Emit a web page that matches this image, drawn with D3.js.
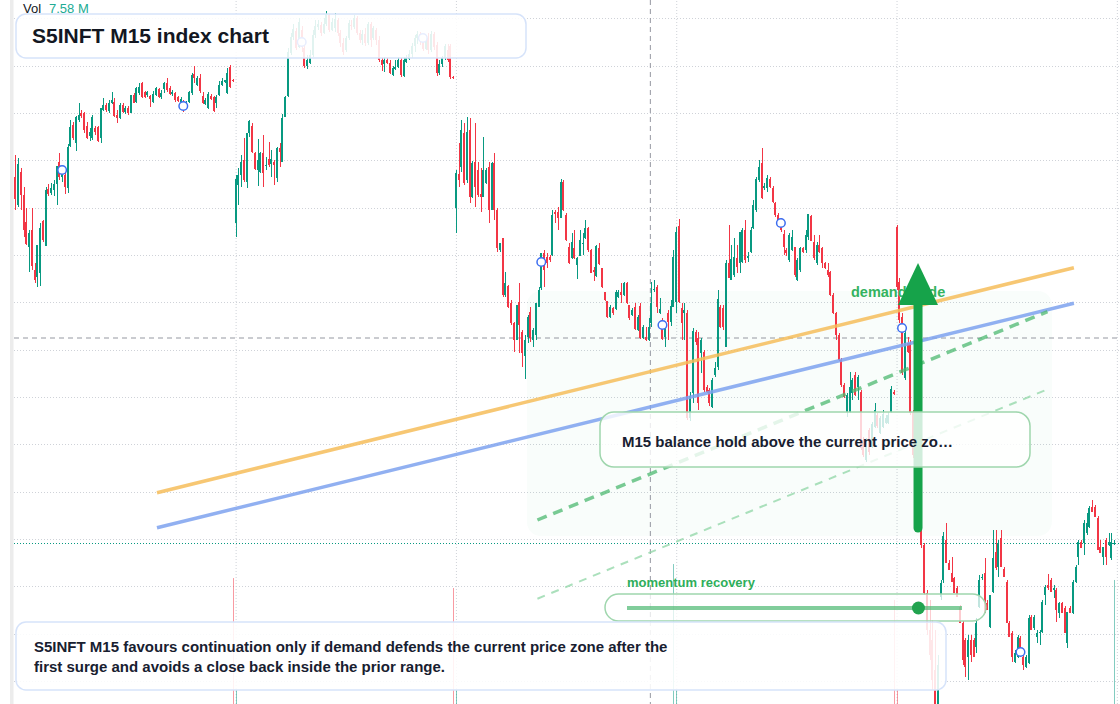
<!DOCTYPE html>
<html>
<head>
<meta charset="utf-8">
<script src="https://cdn.jsdelivr.net/npm/d3@7"></script>
<style>
  html, body { margin: 0; padding: 0; background: #fff; }
  svg { display: block; font-family: "Liberation Sans", Arial, sans-serif; }
</style>
</head>
<body>
<svg id="chart" width="1120" height="704"></svg>
<script>
// ---- data: M15 candles, 5 sessions of 80 bars ----
const opens = [
  4823,4795,4828,4805,4778,4753,4770,4730,4723,4727,4779,4754,4811,4807,4810,4816,4838,4823,4825,4812,
  4854,4875,4857,4880,4887,4887,4874,4864,4862,4872,4873,4862,4890,4895,4889,4897,4898,4885,4882,4895,
  4888,4892,4887,4905,4898,4907,4917,4908,4905,4904,4898,4905,4911,4903,4911,4917,4912,4906,4907,4903,
  4898,4898,4894,4898,4907,4926,4915,4922,4904,4896,4892,4904,4903,4897,4905,4915,4918,4907,4933,4920,
  4777,4815,4825,4840,4818,4867,4874,4847,4830,4828,4847,4834,4841,4836,4838,4822,4852,4838,4883,4904,
  4947,4963,4969,4953,4970,4952,4934,4937,4945,4965,4973,4975,4967,4976,4985,4970,4972,4980,4967,4957,
  4950,4962,4975,4973,4982,4967,4960,4966,4957,4976,4962,4970,4960,4940,4936,4940,4937,4925,4931,4933,
  4940,4924,4938,4941,4946,4954,4962,4966,4960,4951,4962,4950,4966,4955,4927,4936,4942,4950,4954,4923,
  4792,4826,4833,4867,4820,4870,4803,4838,4830,4806,4803,4817,4833,4790,4837,4790,4750,4762,4705,4714,
  4697,4677,4660,4698,4668,4644,4663,4688,4660,4665,4693,4712,4747,4743,4743,4745,4788,4788,4782,4818,
  4785,4753,4742,4752,4735,4744,4756,4762,4772,4750,4730,4724,4752,4732,4708,4699,4683,4692,4691,4703,
  4708,4705,4717,4695,4685,4693,4670,4694,4662,4663,4660,4677,4710,4713,4687,4680,4663,4687,4678,4693,
  4698,4774,4692,4687,4687,4582,4607,4668,4662,4647,4648,4613,4610,4593,4625,4633,4693,4692,4653,4737,
  4720,4725,4742,4737,4738,4770,4742,4748,4772,4790,4820,4837,4812,4812,4821,4812,4797,4785,4778,4766,
  4750,4740,4750,4753,4720,4730,4752,4750,4763,4784,4758,4737,4755,4752,4737,4730,4728,4705,4687,4665,
  4640,4615,4588,4588,4607,4625,4613,4608,4560,4540,4570,4553,4573,4585,4567,4573,4577,4577,4588,4608,
  4773,4718,4683,4622,4657,4657,4587,4545,4535,4518,4455,4407,4370,4360,4330,4285,4403,4420,4460,4437,
  4427,4422,4412,4393,4377,4360,4343,4360,4360,4353,4393,4422,4427,4397,4373,4408,4448,4433,4462,4431,
  4418,4377,4367,4338,4343,4362,4343,4333,4337,4383,4372,4363,4367,4368,4405,4415,4420,4410,4410,4387,
  4397,4392,4357,4392,4387,4418,4443,4458,4457,4467,4473,4493,4493,4482,4453,4443,4460,4455,4442,4456
];
const highs = [
  4845,4842,4832,4813,4792,4770,4792,4737,4755,4777,4780,4813,4816,4817,4820,4834,4847,4832,4827,4856,
  4880,4878,4884,4897,4890,4888,4878,4872,4885,4874,4874,4892,4902,4897,4900,4908,4902,4890,4897,4897,
  4894,4894,4905,4907,4913,4917,4918,4909,4909,4905,4909,4913,4912,4910,4918,4922,4914,4910,4908,4904,
  4903,4900,4899,4909,4927,4934,4924,4926,4908,4902,4908,4906,4904,4905,4919,4922,4920,4932,4935,4921,
  4825,4832,4845,4862,4867,4880,4877,4848,4861,4848,4865,4843,4858,4850,4840,4853,4857,4886,4904,4952,
  4967,4976,4972,4982,4974,4955,4945,4950,4970,4980,4980,4978,4982,4989,4986,4982,4987,4982,4970,4962,
  4964,4980,4980,4985,4984,4970,4970,4972,4978,4978,4974,4972,4964,4942,4943,4942,4940,4934,4940,4943,
  4942,4943,4945,4950,4957,4965,4969,4968,4964,4965,4967,4969,4968,4958,4940,4944,4956,4956,4956,4924,
  4830,4857,4880,4877,4883,4882,4839,4877,4838,4832,4863,4832,4838,4838,4847,4792,4757,4762,4728,4715,
  4700,4678,4695,4717,4670,4665,4685,4693,4672,4697,4713,4747,4750,4747,4745,4790,4790,4793,4821,4820,
  4787,4757,4767,4770,4743,4770,4767,4780,4773,4751,4733,4755,4757,4732,4708,4699,4695,4693,4710,4710,
  4717,4718,4718,4695,4692,4697,4685,4697,4675,4673,4682,4718,4720,4715,4702,4682,4673,4690,4700,4750,
  4773,4781,4697,4697,4690,4608,4672,4670,4668,4662,4650,4615,4612,4622,4638,4710,4695,4695,4740,4775,
  4755,4762,4755,4768,4772,4780,4748,4773,4800,4823,4840,4852,4817,4825,4823,4814,4798,4787,4782,4770,
  4752,4767,4770,4753,4742,4753,4753,4770,4786,4785,4765,4758,4765,4753,4738,4737,4729,4707,4688,4667,
  4642,4617,4607,4628,4622,4628,4625,4610,4563,4562,4572,4578,4597,4587,4584,4590,4585,4588,4614,4610,
  4775,4722,4687,4670,4663,4660,4590,4560,4540,4522,4457,4410,4400,4380,4370,4345,4420,4468,4477,4440,
  4443,4423,4414,4395,4379,4362,4365,4365,4362,4382,4425,4426,4442,4400,4405,4470,4470,4460,4470,4433,
  4420,4379,4369,4350,4365,4364,4345,4345,4385,4385,4385,4370,4370,4400,4415,4426,4422,4415,4412,4398,
  4398,4394,4388,4394,4420,4435,4460,4460,4480,4487,4494,4500,4495,4484,4460,4453,4462,4467,4467,4460
];
const lows = [
  4790,4793,4790,4763,4755,4728,4730,4717,4713,4714,4758,4754,4804,4805,4804,4795,4820,4818,4806,4807,
  4853,4860,4849,4878,4882,4867,4861,4859,4860,4865,4858,4857,4889,4888,4887,4896,4883,4877,4881,4887,
  4886,4885,4887,4897,4897,4905,4902,4902,4903,4893,4897,4904,4902,4901,4907,4908,4905,4904,4898,4898,
  4897,4888,4892,4897,4905,4917,4914,4907,4896,4895,4891,4900,4888,4892,4904,4914,4917,4906,4912,4918,
  4763,4795,4813,4818,4812,4863,4847,4830,4814,4827,4813,4830,4833,4823,4815,4818,4833,4838,4883,4903,
  4945,4960,4950,4952,4948,4932,4931,4936,4943,4962,4970,4964,4966,4974,4968,4969,4968,4964,4953,4945,
  4948,4960,4970,4971,4965,4957,4955,4954,4955,4953,4960,4955,4938,4929,4928,4936,4926,4924,4930,4932,
  4923,4923,4937,4940,4942,4948,4956,4955,4949,4950,4946,4948,4950,4924,4925,4933,4940,4938,4921,4921,
  4767,4813,4828,4815,4817,4797,4802,4793,4803,4788,4803,4816,4777,4790,4780,4748,4748,4703,4703,4692,
  4675,4648,4660,4647,4633,4621,4657,4658,4653,4660,4693,4710,4713,4732,4738,4744,4777,4770,4782,4789,
  4759,4736,4741,4741,4721,4744,4745,4761,4748,4727,4719,4723,4735,4712,4699,4682,4682,4685,4690,4702,
  4697,4704,4696,4680,4684,4670,4669,4661,4661,4659,4659,4673,4708,4687,4686,4660,4653,4660,4674,4693,
  4687,4697,4660,4660,4580,4579,4597,4655,4590,4627,4608,4607,4594,4592,4623,4630,4672,4670,4653,4722,
  4720,4723,4727,4727,4737,4737,4738,4747,4771,4788,4818,4801,4810,4808,4812,4797,4783,4774,4768,4745,
  4744,4738,4749,4723,4719,4728,4747,4747,4760,4759,4740,4735,4747,4732,4731,4723,4704,4686,4660,4639,
  4613,4602,4583,4587,4600,4604,4600,4550,4543,4538,4545,4552,4572,4572,4566,4572,4576,4576,4587,4605,
  4710,4677,4625,4620,4647,4585,4542,4530,4515,4452,4405,4365,4340,4310,4270,4280,4400,4417,4437,4430,
  4418,4407,4403,4377,4335,4323,4320,4338,4343,4347,4392,4420,4387,4390,4372,4407,4430,4423,4433,4423,
  4377,4363,4338,4337,4342,4347,4330,4332,4336,4370,4370,4357,4355,4367,4395,4410,4408,4402,4378,4382,
  4387,4367,4352,4387,4386,4417,4435,4452,4445,4465,4472,4488,4483,4450,4447,4435,4435,4454,4440,4455
];
const closes = [
  4801,4836,4805,4770,4756,4767,4734,4720,4755,4772,4760,4810,4806,4812,4816,4834,4823,4827,4813,4853,
  4873,4862,4883,4885,4884,4870,4862,4868,4883,4868,4859,4892,4895,4890,4897,4900,4884,4882,4895,4888,
  4892,4887,4905,4897,4912,4913,4903,4903,4908,4901,4906,4912,4903,4907,4917,4910,4906,4908,4900,4899,
  4901,4893,4897,4908,4925,4922,4922,4909,4897,4900,4906,4901,4889,4903,4915,4919,4920,4927,4913,4919,
  4821,4825,4838,4820,4867,4879,4848,4831,4840,4847,4827,4835,4835,4841,4835,4852,4848,4882,4903,4948,
  4963,4971,4952,4978,4953,4934,4940,4945,4965,4974,4976,4967,4976,4986,4970,4978,4981,4967,4957,4948,
  4962,4977,4974,4982,4967,4960,4966,4957,4976,4960,4972,4960,4940,4935,4940,4937,4927,4932,4933,4940,
  4925,4940,4942,4946,4954,4962,4966,4960,4951,4962,4950,4966,4953,4927,4936,4942,4954,4940,4923,4922,
  4827,4820,4870,4817,4868,4803,4837,4813,4805,4803,4830,4830,4790,4837,4790,4752,4757,4705,4717,4693,
  4677,4660,4695,4675,4647,4660,4683,4662,4670,4697,4710,4747,4730,4737,4740,4785,4786,4782,4818,4790,
  4760,4737,4758,4742,4742,4760,4757,4772,4750,4727,4728,4754,4736,4713,4700,4683,4693,4687,4708,4708,
  4705,4717,4697,4682,4690,4671,4683,4662,4673,4660,4673,4697,4711,4693,4691,4661,4673,4678,4694,4743,
  4768,4698,4677,4690,4582,4604,4669,4658,4597,4660,4610,4608,4597,4620,4632,4701,4673,4673,4737,4722,
  4741,4743,4733,4768,4770,4740,4744,4770,4795,4821,4833,4802,4814,4822,4813,4798,4785,4778,4770,4753,
  4747,4765,4763,4725,4740,4752,4748,4765,4786,4759,4742,4755,4748,4737,4732,4725,4705,4687,4665,4640,
  4615,4603,4605,4613,4620,4605,4623,4552,4545,4558,4548,4576,4590,4574,4582,4586,4582,4585,4611,4606,
  4713,4680,4627,4667,4648,4587,4545,4535,4518,4455,4407,4370,4345,4320,4280,4335,4417,4464,4437,4430,
  4418,4407,4403,4377,4340,4333,4360,4345,4343,4377,4420,4423,4387,4390,4405,4442,4432,4457,4433,4423,
  4377,4363,4343,4347,4363,4347,4335,4343,4382,4370,4383,4367,4368,4398,4413,4412,4408,4412,4390,4397,
  4387,4367,4388,4387,4418,4433,4458,4452,4477,4477,4492,4488,4483,4450,4447,4453,4443,4458,4458,4457
];

// session boundaries (bar index of each day start) and price grid
const sessionStarts = [80, 160, 240, 320, 400];
const gridPrices = [4982, 4934, 4887, 4840, 4792, 4745, 4698, 4650, 4603, 4556, 4508, 4461, 4414, 4366, 4319];

// volume (millions) - only the closing-auction bars reach into view
const volIndex = [79, 80, 159, 160, 239, 240, 319, 320, 399];
const volValues = [7.66, 2.95, 7.24, 2.95, 8.25, 2.95, 6.74, 2.95, 7.58];

// signal markers
const markerIndex = [17, 61, 104, 148, 191, 235, 278, 322, 365];
const markerPrice = [4830, 4894, 4958, 4962, 4738, 4675, 4777, 4672, 4348];

// drawings (bar index, price)
const crossIndex = 230.6, crossPrice = 4662;
const channelIndex = [51.45, 384.4];
const upperLine = [4507.3, 4732.3];
const lowerLine = [4472.3, 4696.7];
const supportIndex = [189.6, 374.8];
const supportLine = [4480, 4688.3];
const supportLow = [4401.3, 4610.7];
const zoneIndex = [185.8, 376.4];
const zonePrice = [4464, 4709];
const arrowIndex = 327.8;
const arrowPrice = [4472, 4737];
const momentum = 0.87;

const titleText = "S5INFT M15 index chart";
const zoneLabel = "demand node";
const noteLines = [
  "S5INFT M15 favours continuation only if demand defends the current price zone after the",
  "first surge and avoids a close back inside the prior range."
];
const calloutText = "M15 balance hold above the current price zo\u2026";

// ---- chart ----
const W = 1120, H = 704;
const UP = "#089981", DOWN = "#f23645";
const svg = d3.select("#chart");

const x = d3.scaleLinear().domain([0, opens.length - 1]).range([15.3, 1114.1]);
const y = d3.scaleLinear().domain([4296, 5000]).range([H, 0]);
const yVol = d3.scaleLinear().domain([0, 10]).range([760, 522.5]);

svg.append("rect").attr("width", W).attr("height", H).attr("fill", "#fff");
svg.append("rect").attr("x", 10).attr("y", 0).attr("width", 3.5).attr("height", H).attr("fill", "#ececec");

// grid via axes
const gy = svg.append("g").attr("transform", "translate(14,0)")
  .call(d3.axisLeft(y).tickValues(gridPrices).tickSize(-(W - 14)).tickFormat(""));
const gx = svg.append("g").attr("transform", `translate(0,${H})`)
  .call(d3.axisBottom(x).tickValues(sessionStarts).tickSize(-H).tickFormat(""));
[gy, gx].forEach(g => {
  g.select(".domain").remove();
  g.selectAll("line").attr("stroke", "#cfd2d8").attr("stroke-dasharray", "1,2");
});

// demand zone
svg.append("rect")
  .attr("x", x(zoneIndex[0])).attr("y", y(zonePrice[1]))
  .attr("width", x(zoneIndex[1]) - x(zoneIndex[0]))
  .attr("height", y(zonePrice[0]) - y(zonePrice[1]))
  .attr("rx", 14).attr("fill", "#22c55e").attr("fill-opacity", 0.028);

// crosshair + last price line
svg.append("line").attr("x1", x(crossIndex)).attr("x2", x(crossIndex)).attr("y1", 0).attr("y2", H)
  .attr("stroke", "#9598a1").attr("stroke-dasharray", "5,4");
svg.append("line").attr("x1", 14).attr("x2", W).attr("y1", y(crossPrice)).attr("y2", y(crossPrice))
  .attr("stroke", "#9598a1").attr("stroke-dasharray", "5,4");
const lastY = Math.round(y(closes[closes.length - 1])) + 0.5;
svg.append("line").attr("x1", 14).attr("x2", W).attr("y1", lastY).attr("y2", lastY)
  .attr("stroke", UP).attr("stroke-dasharray", "1,2");

const bars = opens.map((o, i) => ({ i, o, h: highs[i], l: lows[i], c: closes[i] }));
const colorOf = d => d.c >= d.o ? UP : DOWN;

// volume
svg.append("g").selectAll("rect").data(volIndex).join("rect")
  .attr("x", i => Math.round(x(i)))
  .attr("y", (i, k) => yVol(volValues[k]))
  .attr("width", 1)
  .attr("height", (i, k) => yVol(0) - yVol(volValues[k]))
  .attr("fill", i => colorOf(bars[i])).attr("fill-opacity", 0.5);

// candles
const cg = svg.append("g").attr("shape-rendering", "crispEdges");
cg.selectAll("rect.wick").data(bars).join("rect").attr("class", "wick")
  .attr("x", d => Math.round(x(d.i)))
  .attr("y", d => y(d.h))
  .attr("width", 1)
  .attr("height", d => Math.max(1, y(d.l) - y(d.h)))
  .attr("fill", colorOf);
cg.selectAll("rect.body").data(bars).join("rect").attr("class", "body")
  .attr("x", d => Math.round(x(d.i)) - 1)
  .attr("y", d => y(Math.max(d.o, d.c)))
  .attr("width", 2)
  .attr("height", d => Math.max(1, Math.abs(y(d.o) - y(d.c))))
  .attr("fill", colorOf);

// markers
svg.append("g").selectAll("circle").data(markerIndex).join("circle")
  .attr("cx", i => x(i)).attr("cy", (i, k) => y(markerPrice[k]))
  .attr("r", 4.3).attr("fill", "#fff").attr("stroke", "#3d6ef0").attr("stroke-width", 1.5);

// trend lines
const seg = (idx, prices) => d3.line()([[x(idx[0]), y(prices[0])], [x(idx[1]), y(prices[1])]]);
svg.append("path").attr("d", seg(channelIndex, upperLine))
  .attr("stroke", "#f6bd5a").attr("stroke-opacity", 0.85).attr("stroke-width", 3.5).attr("fill", "none");
svg.append("path").attr("d", seg(channelIndex, lowerLine))
  .attr("stroke", "#7ea2ef").attr("stroke-opacity", 0.85).attr("stroke-width", 3.5).attr("fill", "none");
svg.append("path").attr("d", seg(supportIndex, supportLine))
  .attr("stroke", "#4cb870").attr("stroke-opacity", 0.75).attr("stroke-width", 3.5)
  .attr("stroke-dasharray", "10,7").attr("fill", "none");
svg.append("path").attr("d", seg(supportIndex, supportLow))
  .attr("stroke", "#8fd6a5").attr("stroke-opacity", 0.75).attr("stroke-width", 2)
  .attr("stroke-dasharray", "8,7").attr("fill", "none");

// zone label
svg.append("text").attr("x", x(zoneIndex[0]) + 324).attr("y", y(zonePrice[1]) + 6)
  .attr("font-size", 14.5).attr("font-weight", 700).attr("fill", "#34b35f").text(zoneLabel);

// arrow
const ax = x(arrowIndex), tipY = y(arrowPrice[1]), headLen = 42;
svg.append("line").attr("x1", ax).attr("x2", ax)
  .attr("y1", y(arrowPrice[0])).attr("y2", tipY + headLen - 2)
  .attr("stroke", "#16a34a").attr("stroke-width", 9).attr("stroke-linecap", "round");
svg.append("path")
  .attr("d", d3.line()([[ax - 20, tipY + headLen], [ax, tipY], [ax + 20, tipY + headLen]]) + "Z")
  .attr("fill", "#16a34a");

// callout
svg.append("rect").attr("x", 600).attr("y", 412).attr("width", 430).attr("height", 55).attr("rx", 14)
  .attr("fill", "#fff").attr("fill-opacity", 0.8).attr("stroke", "#9fd6ad").attr("stroke-width", 1.5);
svg.append("text").attr("x", 622).attr("y", 447).attr("font-size", 15).attr("font-weight", 700)
  .attr("fill", "#182030").text(calloutText);

// momentum slider
const sx = d3.scaleLinear().domain([0, 1]).range([627, 962]);
svg.append("text").attr("x", 627).attr("y", 587).attr("font-size", 13).attr("font-weight", 700)
  .attr("fill", "#2eae5a").text("momentum recovery");
svg.append("rect").attr("x", 605).attr("y", 594).attr("width", 381).attr("height", 27).attr("rx", 13.5)
  .attr("fill", "#fff").attr("fill-opacity", 0.75).attr("stroke", "#9fd6ad").attr("stroke-width", 1.5);
svg.append("line").attr("x1", sx(0)).attr("x2", sx(1)).attr("y1", 608).attr("y2", 608)
  .attr("stroke", "#4cb870").attr("stroke-opacity", 0.7).attr("stroke-width", 4);
svg.append("circle").attr("cx", sx(momentum)).attr("cy", 608).attr("r", 6.5).attr("fill", "#22a34f");

// note box
svg.append("rect").attr("x", 16).attr("y", 622).attr("width", 930).attr("height", 68).attr("rx", 10)
  .attr("fill", "#fff").attr("fill-opacity", 0.88).attr("stroke", "#d6e3fa").attr("stroke-width", 1.5);
svg.append("g").selectAll("text").data(noteLines).join("text")
  .attr("x", 34).attr("y", (d, i) => 652 + i * 20)
  .attr("font-size", 15).attr("font-weight", 700).attr("fill", "#182030").text(d => d);

// title box
svg.append("rect").attr("x", 16).attr("y", 14).attr("width", 510).attr("height", 44).attr("rx", 10)
  .attr("fill", "#fff").attr("fill-opacity", 0.88).attr("stroke", "#d6e3fa").attr("stroke-width", 1.5);
svg.append("text").attr("x", 32).attr("y", 43).attr("font-size", 21).attr("font-weight", 700)
  .attr("fill", "#131722").text(titleText);

// volume legend
const vol = svg.append("text").attr("x", 23).attr("y", 13).attr("font-size", 13);
vol.append("tspan").attr("fill", "#131722").text("Vol");
vol.append("tspan").attr("x", 49).attr("fill", "#22ab94").text(volValues[volValues.length - 1].toFixed(2) + " M");
</script>
</body>
</html>
